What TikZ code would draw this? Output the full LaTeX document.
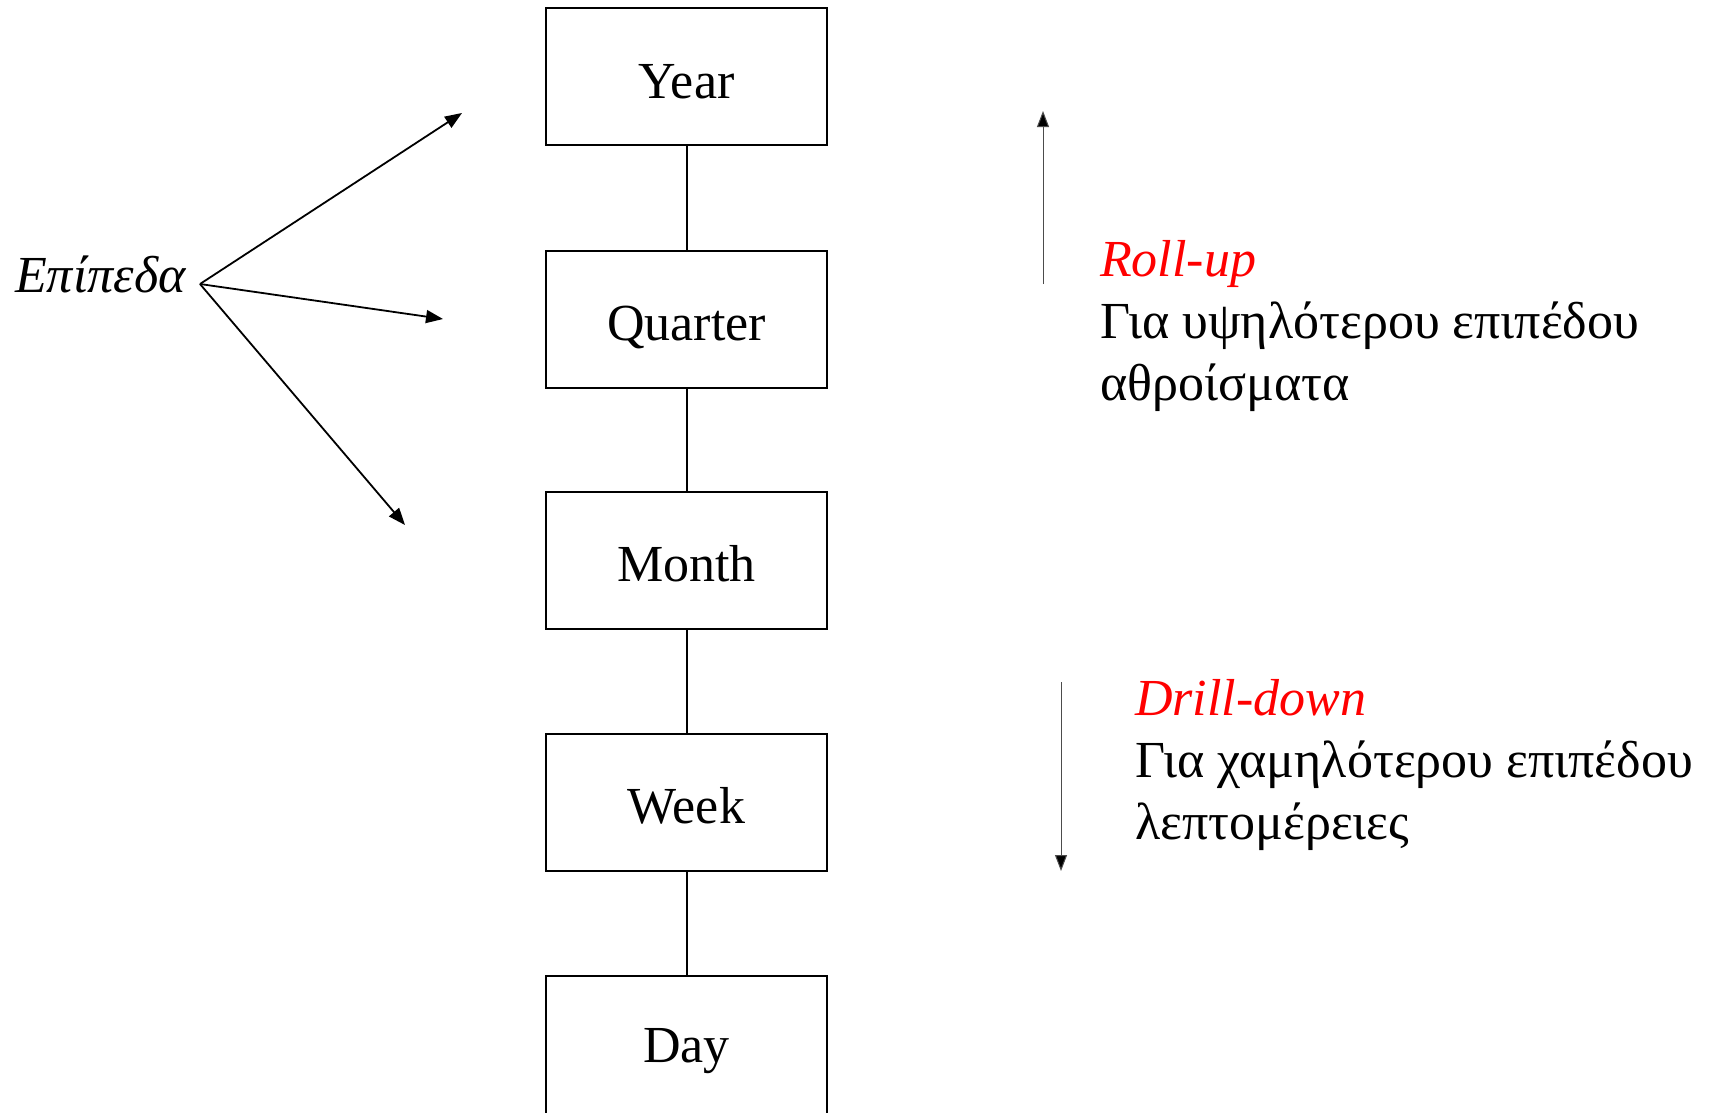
\documentclass[tikz,border=0pt]{standalone}
\usepackage{fontspec}
\setmainfont{Liberation Serif}
\usetikzlibrary{arrows.meta}
\begin{document}
\begin{tikzpicture}[x=1pt,y=-1pt,
  every node/.style={font=\fontsize{52}{62}\selectfont},
  level/.style={draw, line width=2pt, minimum width=281pt, minimum height=137pt,
    inner sep=0pt, text height=55pt, text depth=12pt},
  openlevel/.style={level, minimum height=160pt, text height=24pt, text depth=12pt},
  link/.style={line width=2pt},
  pointer/.style={line width=1.8pt, -{Triangle[length=17pt,width=13pt]}},
  flow/.style={line width=1pt, draw=black!70, -{Triangle[length=16pt,width=12pt,fill=black]}},
  note/.style={anchor=base west, align=left, inner sep=0pt}
]
\clip (0,0) rectangle (1712,1112);
\fill[white] (0,0) rectangle (1712,1112);

% hierarchy of time levels
\node[level] (year)    at (686.5, 76.5) {Year};
\node[level] (quarter) at (686.5, 319)  {Quarter};
\node[level] (month)   at (686.5, 560)  {Month};
\node[level] (week)    at (686.5, 802)  {Week};
\node[openlevel, anchor=north] (day) at (686.5, 975) {Day};

\draw[link] (year) -- (quarter);
\draw[link] (quarter) -- (month);
\draw[link] (month) -- (week);
\draw[link] (week) -- (day);

% "levels" label with its pointers
\node[anchor=base west, inner sep=0pt, font=\fontsize{52}{62}\selectfont\itshape] (levels) at (15, 292) {Επίπεδα};
\coordinate (src) at (200, 284);
\coordinate (tipA) at (462, 113);
\coordinate (tipB) at (443, 319);
\coordinate (tipC) at (405, 525);
\draw[pointer] (src) -- (tipA);
\draw[pointer] (src) -- (tipB);
\draw[pointer] (src) -- (tipC);

% roll-up (node base = baseline of its last line)
\coordinate (upfrom) at (1043, 284);
\coordinate (upto) at (1043, 111);
\draw[flow] (upfrom) -- (upto);
\node[note] (rollup) at (1100, 400)
  {\textcolor{red}{\itshape Roll-up}\\Για υψηλότερου επιπέδου\\αθροίσματα};

% drill-down
\coordinate (downfrom) at (1061, 682);
\coordinate (downto) at (1061, 871);
\draw[flow] (downfrom) -- (downto);
\node[note] (drilldown) at (1135, 839.5)
  {\textcolor{red}{\itshape Drill-down}\\Για χαμηλότερου επιπέδου\\λεπτομέρειες};
\end{tikzpicture}
\end{document}
